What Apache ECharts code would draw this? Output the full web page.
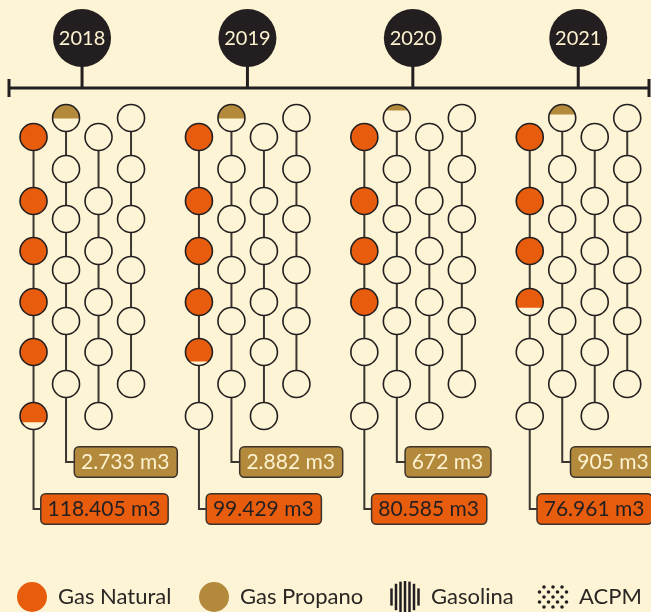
<!DOCTYPE html>
<html>
<head>
<meta charset="utf-8">
<script src="https://cdn.jsdelivr.net/npm/echarts@6/dist/echarts.min.js"></script>
<style>
html, body { margin: 0; padding: 0; background: #fdf4d5; }
#chart { width: 651px; height: 612px; }
</style>
</head>
<body>
<div id="chart"></div>
<script>
var myChart = echarts.init(document.getElementById('chart'));

// datos (m3 por año)
const years = [2018, 2019, 2020, 2021]
const gasNatural = [118405, 99429, 80585, 76961]
const gasPropano = [2733, 2882, 672, 905]
const gasolina = [0, 0, 0, 0]
const acpm = [0, 0, 0, 0]
// circulos llenos tal como se ven en la figura (1 = circulo completo)
const naturalCircles = [5.73, 4.85, 4.0, 3.71]
const propanoCircles = [0.52, 0.52, 0.22, 0.37]
const gasolinaCircles = [0, 0, 0, 0]
const acpmCircles = [0, 0, 0, 0]
const legendNames = ['Gas Natural', 'Gas Propano', 'Gasolina', 'ACPM']

const BG = '#fdf4d5'
const DARK = '#231f20'
const LINE = '#3b3632'
const ORANGE = '#e85d0d'
const GOLD = '#b3893c'
const CREAM = '#fdf2d0'
const FONT = 'Lato, "Noto Sans", sans-serif'

// layout
const colDx = [-48.5, -16, 16.5, 49]
const rowsA = [137, 201, 251, 302, 352, 416]
const rowsB = [118, 169, 219, 270, 321, 384]
const R = 13.5

function fmt(n) {
  return String(n).replace(/\B(?=(\d{3})+(?!\d))/g, '.')
}

function capPoints(cx, cy, r, f) {
  // segmento superior del circulo lleno hasta la fraccion f de la altura
  let s = 1 - 2 * f
  let a = Math.asin(Math.max(-1, Math.min(1, s)))
  let pts = []
  let n = 40
  for (let k = 0; k <= n; k++) {
    let t = a + (Math.PI - 2 * a) * k / n
    pts.push([cx + r * Math.cos(t), cy - r * Math.sin(t)])
  }
  return pts
}

function renderYear(params, api) {
  let i = params.dataIndex
  let yr = api.value(0)
  let cx = api.coord([yr, 0])[0]
  let Y = v => api.coord([yr, v])[1]
  let children = []

  children.push({ type: 'line', shape: { x1: cx, y1: Y(60), x2: cx, y2: Y(88) }, style: { stroke: DARK, lineWidth: 3 } })
  children.push({ type: 'circle', shape: { cx: cx, cy: Y(38), r: 29 }, style: { fill: DARK } })
  children.push({ type: 'text', style: { text: String(years[i]), x: cx, y: Y(39), align: 'center', verticalAlign: 'middle', font: '20px ' + FONT, fill: CREAM } })

  let cols = [
    { fill: naturalCircles[i], color: ORANGE, rows: rowsA, value: gasNatural[i], labelY: 509, textColor: DARK, dx: 8 },
    { fill: propanoCircles[i], color: GOLD, rows: rowsB, value: gasPropano[i], labelY: 462, textColor: CREAM, dx: 9 },
    { fill: gasolinaCircles[i], color: DARK, rows: rowsA, value: gasolina[i] },
    { fill: acpmCircles[i], color: DARK, rows: rowsB, value: acpm[i] }
  ]

  cols.forEach((c, j) => {
    let x = cx + colDx[j]
    let top = Y(c.rows[0])
    if (c.labelY) {
      children.push({ type: 'polyline', shape: { points: [[x, top], [x, Y(c.labelY)], [x + c.dx, Y(c.labelY)]] }, style: { stroke: LINE, lineWidth: 2, fill: null } })
    } else {
      children.push({ type: 'line', shape: { x1: x, y1: top, x2: x, y2: Y(c.rows[c.rows.length - 1]) }, style: { stroke: LINE, lineWidth: 2 } })
    }
    c.rows.forEach((ry, k) => {
      let cy = Y(ry)
      let f = Math.max(0, Math.min(1, c.fill - k))
      if (f >= 0.999) {
        children.push({ type: 'circle', shape: { cx: x, cy: cy, r: R }, style: { fill: c.color, stroke: DARK, lineWidth: 1.6 } })
      } else {
        children.push({ type: 'circle', shape: { cx: x, cy: cy, r: R }, style: { fill: BG } })
        if (f > 0) {
          children.push({ type: 'polygon', shape: { points: capPoints(x, cy, R, f) }, style: { fill: c.color } })
        }
        children.push({ type: 'circle', shape: { cx: x, cy: cy, r: R }, style: { fill: null, stroke: DARK, lineWidth: 1.6 } })
      }
    })
    if (c.labelY && c.value > 0) {
      children.push({
        type: 'text',
        style: {
          text: fmt(c.value) + ' m3', x: x + c.dx, y: Y(c.labelY), align: 'left', verticalAlign: 'middle',
          font: '21px ' + FONT, fill: c.textColor, backgroundColor: c.color,
          borderColor: '#3b322c', borderWidth: 1.5, borderRadius: 4, padding: [4, 7, 4, 6]
        }
      })
    }
  })
  return { type: 'group', children: children }
}

// leyenda
function legendGraphics() {
  let items = []
  let iconX = [32, 214, 405, 553]
  let cy = 597
  let colors = [ORANGE, GOLD]
  legendNames.forEach((name, k) => {
    let x = iconX[k]
    if (k < 2) {
      items.push({ type: 'circle', shape: { cx: x, cy: cy, r: 15 }, style: { fill: colors[k] } })
    } else if (k === 2) {
      let r = 16
      for (let d of [-13.5, -9, -4.5, 0, 4.5, 9, 13.5]) {
        let h = Math.sqrt(r * r - d * d)
        items.push({ type: 'rect', shape: { x: x + d - 1.25, y: cy - h, width: 2.5, height: 2 * h }, style: { fill: DARK } })
      }
    } else {
      for (let j = -3; j <= 3; j++) {
        for (let m = -2; m <= 2; m++) {
          let px = x + m * 9 + (Math.abs(j) % 2 ? 4.5 : 0)
          let py = cy + j * 5
          if (Math.hypot(px - x, py - cy) <= 15) {
            items.push({ type: 'circle', shape: { cx: px, cy: py, r: 1.8 }, style: { fill: DARK } })
          }
        }
      }
    }
    items.push({ type: 'text', style: { text: name, x: x + 26, y: cy, verticalAlign: 'middle', font: '22px ' + FONT, fill: '#2a2624' } })
  })
  return items
}

let option = {
  backgroundColor: BG,
  animation: false,
  grid: { left: 0, right: 0, top: 0, bottom: 0 },
  xAxis: { type: 'value', min: 2017.504, max: 2017.504 + 651 / 165.4, show: false },
  yAxis: { type: 'value', min: 0, max: 612, inverse: true, show: false },
  graphic: [
    { type: 'line', shape: { x1: 8, y1: 88, x2: 649, y2: 88 }, style: { stroke: DARK, lineWidth: 3 }, z: 1 },
    { type: 'line', shape: { x1: 9, y1: 79, x2: 9, y2: 97 }, style: { stroke: DARK, lineWidth: 3 }, z: 1 },
    { type: 'line', shape: { x1: 649, y1: 79, x2: 649, y2: 97 }, style: { stroke: DARK, lineWidth: 3 }, z: 1 }
  ].concat(legendGraphics()),
  series: [{
    type: 'custom',
    silent: true,
    renderItem: renderYear,
    data: years.map(y => [y, 0]),
    encode: { x: 0, y: 1 },
    z: 5
  }]
}

myChart.setOption(option)
</script>
</body>
</html>
